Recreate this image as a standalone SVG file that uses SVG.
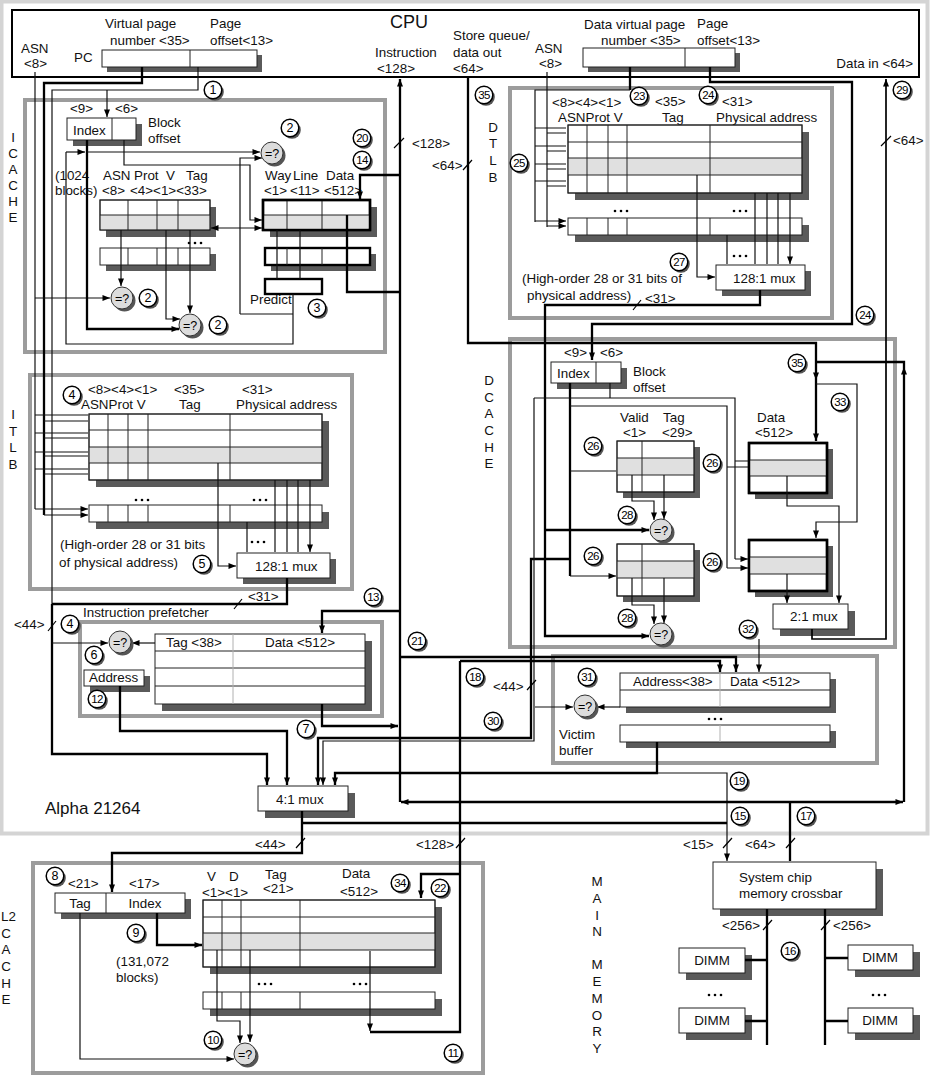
<svg xmlns="http://www.w3.org/2000/svg" width="931" height="1087" viewBox="0 0 931 1087">
<defs>
<style>
.t{font-family:"Liberation Sans",Arial,sans-serif;font-size:13.4px;fill:#111}
.tc{text-anchor:middle}
.te{text-anchor:end}
.big{font-size:18px}
.al{font-size:17px}
.gb{fill:none;stroke:#9c9c9c;stroke-width:4}
.ob{fill:none;stroke:#d4d4d4;stroke-width:4}
.bx{fill:#fff;stroke:#222;stroke-width:1}
.tb{fill:#fff;stroke:#000;stroke-width:2.4}
.nf{fill:none}
.sh{fill:#5a5a5a}
.gr{fill:#e0e0e0}
.ln{stroke:#222;stroke-width:1;fill:none}
.lg{stroke:#b0b0b0;stroke-width:1;fill:none}
.w{stroke:#111;stroke-width:1.2;fill:none}
.W{stroke:#000;stroke-width:2.3;fill:none}
.M{stroke:#000;stroke-width:1.7;fill:none}
.a{marker-end:url(#ah)}
.aa{marker-start:url(#ah);marker-end:url(#ah)}
.cn{font-family:"Liberation Sans",Arial,sans-serif;font-size:12.5px;text-anchor:middle;fill:#000}
.c2{font-size:11.5px;letter-spacing:-0.6px}
.sl{stroke:#000;stroke-width:1.2}
</style>
<marker id="ah" viewBox="0 0 10 8" refX="10" refY="4" markerWidth="8" markerHeight="6" markerUnits="userSpaceOnUse" orient="auto-start-reverse"><path d="M0,0 L10,4 L0,8 z" fill="#000"/></marker>
<g id="cb"><circle cx="2" cy="2" r="8.8" fill="#555"/><circle r="8.8" fill="#fff" stroke="#000" stroke-width="1.5"/></g>
<g id="eq"><circle cx="2.5" cy="2.5" r="11" fill="#555"/><circle r="11" fill="#dcdcdc" stroke="#333" stroke-width="1"/></g>
<g id="dots"><circle cx="0" cy="0" r="1.3" fill="#000"/><circle cx="6" cy="0" r="1.3" fill="#000"/><circle cx="12" cy="0" r="1.3" fill="#000"/></g>
</defs>
<rect width="931" height="1087" fill="#fff"/>
<rect class="ob" x="1.5" y="1.5" width="926" height="832"/>
<text class="t al" x="45" y="814">Alpha 21264</text>

<g id="frames">
<rect class="gb" x="25" y="100" width="360" height="252"/>
<rect class="gb" x="30" y="375" width="322" height="214"/>
<rect class="gb" x="80" y="622" width="302" height="94"/>
<rect class="gb" x="510" y="88" width="322" height="230"/>
<rect class="gb" x="510" y="339" width="385" height="308"/>
<rect class="gb" x="553" y="656" width="324" height="107"/>
<rect class="gb" x="33" y="863" width="450" height="210"/>
</g>

<g id="cpu">
<rect x="12" y="10" width="907" height="67" fill="#fff" stroke="#000" stroke-width="2"/>
<text class="t big" x="390" y="28">CPU</text>
<text class="t" x="21" y="53">ASN</text><text class="t" x="24" y="68">&lt;8&gt;</text>
<text class="t" x="74" y="62">PC</text>
<text class="t" x="105" y="28">Virtual page</text><text class="t" x="110" y="45">number &lt;35&gt;</text>
<text class="t" x="210" y="28">Page</text><text class="t" x="210" y="45">offset&lt;13&gt;</text>
<text class="t" x="375" y="57">Instruction</text><text class="t" x="377" y="73">&lt;128&gt;</text>
<text class="t" x="453" y="40">Store queue/</text><text class="t" x="453" y="57">data out</text><text class="t" x="453" y="73">&lt;64&gt;</text>
<text class="t" x="535" y="53">ASN</text><text class="t" x="539" y="68">&lt;8&gt;</text>
<text class="t" x="584" y="29">Data virtual page</text><text class="t" x="601" y="45">number &lt;35&gt;</text>
<text class="t" x="697" y="28">Page</text><text class="t" x="697" y="45">offset&lt;13&gt;</text>
<text class="t te" x="913" y="68">Data in &lt;64&gt;</text>
</g>
<g id="pc-reg">
<rect class="sh" x="107" y="55" width="155" height="17"/>
<rect class="bx" x="102" y="50" width="155" height="17"/>
<path class="ln" d="M190,50V67"/>
</g>
<g id="dva-reg">
<rect class="sh" x="588" y="53" width="152" height="19"/>
<rect class="bx" x="583" y="48" width="152" height="19"/>
<path class="ln" d="M685,48V67"/>
</g>

<g id="icache-labels">
<text class="t tc" x="13"><tspan x="13" y="142">I</tspan><tspan x="13" y="158">C</tspan><tspan x="13" y="174">A</tspan><tspan x="13" y="190">C</tspan><tspan x="13" y="206">H</tspan><tspan x="13" y="222">E</tspan></text>
<text class="t" x="70" y="113">&lt;9&gt;</text><text class="t" x="115" y="113">&lt;6&gt;</text>
<text class="t" x="148" y="127">Block</text><text class="t" x="148" y="143">offset</text>
<text class="t" x="55" y="180">(1024</text><text class="t" x="55" y="195">blocks)</text>
<text class="t" x="103" y="180">ASN</text><text class="t" x="134" y="180">Prot</text><text class="t" x="166" y="180">V</text><text class="t" x="186" y="180">Tag</text>
<text class="t" x="102" y="195">&lt;8&gt;</text><text class="t" x="130" y="195">&lt;4&gt;&lt;1&gt;&lt;33&gt;</text>
<text class="t" x="265" y="180">Way</text><text class="t" x="293" y="180">Line</text><text class="t" x="326" y="180">Data</text>
<text class="t" x="264" y="195">&lt;1&gt;</text><text class="t" x="290" y="195">&lt;11&gt;</text><text class="t" x="324" y="195">&lt;512&gt;</text>
<text class="t" x="250" y="304">Predict</text>
</g>
<g id="ic-index">
<rect class="sh" x="73" y="124" width="69" height="22"/>
<rect class="bx" x="67" y="118" width="69" height="22"/>
<path class="ln" d="M112,118V140"/>
<text class="t" x="73" y="135">Index</text>
</g>
<g id="ic-tag">
<rect class="sh" x="106" y="207" width="110" height="30"/>
<rect class="bx" x="100" y="200" width="110" height="30"/>
<rect class="gr" x="100.5" y="215" width="109" height="14.5"/>
<path class="ln" d="M100,215H210M128,200V230M157,200V230M178,200V230"/>
<rect class="bx nf" x="100" y="200" width="110" height="30"/>
<rect class="sh" x="106" y="254" width="110" height="17"/>
<rect class="bx" x="100" y="248" width="110" height="17"/>
<path class="ln" d="M128,248V265M157,248V265M178,248V265"/>
<use href="#dots" x="189" y="243"/>
</g>
<g id="ic-data">
<rect class="sh" x="270" y="207" width="107" height="30"/>
<rect class="tb" x="263" y="200" width="107" height="30"/>
<rect class="gr" x="264.5" y="215" width="104" height="13.8"/>
<path class="ln" d="M263,215H370M287,200V230M322,200V230"/>
<rect class="tb nf" x="263" y="200" width="107" height="30"/>
<rect class="sh" x="271" y="254" width="105" height="17"/>
<rect class="tb" x="265" y="248" width="105" height="17"/>
<path class="ln" d="M287,248V265M322,248V265"/>
<rect class="tb" x="265" y="279" width="57" height="15"/>
</g>

<g id="itlb">
<text class="t tc"><tspan x="13" y="419">I</tspan><tspan x="13" y="436">T</tspan><tspan x="13" y="452">L</tspan><tspan x="13" y="469">B</tspan></text>
<text class="t" x="88" y="394">&lt;8&gt;&lt;4&gt;&lt;1&gt;</text><text class="t" x="174" y="394">&lt;35&gt;</text><text class="t" x="242" y="394">&lt;31&gt;</text>
<text class="t" x="81" y="409">ASNProt V</text><text class="t" x="179" y="409">Tag</text><text class="t" x="236" y="409">Physical address</text>
<rect class="sh" x="96" y="421" width="233" height="66"/>
<rect class="bx" x="89" y="414" width="233" height="66"/>
<rect class="gr" x="89.5" y="447" width="232" height="16"/>
<path class="ln" d="M89,430H322M89,447H322M89,463H322M108,414V480M128,414V480M148,414V480M230,414V480"/>
<rect class="bx nf" x="89" y="414" width="233" height="66"/>
<use href="#dots" x="136" y="500"/><use href="#dots" x="254" y="500"/>
<rect class="sh" x="96" y="512" width="233" height="17"/>
<rect class="bx" x="89" y="505" width="233" height="17"/>
<path class="ln" d="M108,505V522M128,505V522M148,505V522M230,505V522"/>
<text class="t" x="60" y="549">(High-order 28 or 31 bits</text>
<text class="t" x="59" y="567">of physical  address)</text>
<use href="#dots" x="252" y="542"/>
</g>
<g id="itlb-mux">
<rect class="sh" x="243" y="559" width="93" height="25"/>
<rect class="bx" x="237" y="553" width="93" height="25"/>
<text class="t" x="255" y="571">128:1 mux</text>
</g>

<g id="prefetcher">
<text class="t" x="83" y="617">Instruction prefetcher</text>
<rect class="sh" x="162" y="641" width="210" height="70"/>
<rect class="bx" x="155" y="634" width="210" height="70"/>
<path class="ln" d="M155,651H365M155,668H365M155,686H365"/>
<path class="lg" d="M233,634V704"/>
<text class="t" x="166" y="647">Tag &lt;38&gt;</text><text class="t" x="265" y="647">Data &lt;512&gt;</text>
</g>
<g id="pf-address">
<rect class="sh" x="90" y="676" width="60" height="16"/>
<rect class="bx" x="84" y="670" width="60" height="16"/>
<text class="t" x="89" y="682">Address</text>
</g>
<g id="mux41">
<rect class="sh" x="265" y="793" width="90" height="25"/>
<rect class="bx" x="258" y="786" width="90" height="25"/>
<text class="t" x="276" y="804">4:1 mux</text>
</g>

<g id="dtlb">
<text class="t tc"><tspan x="493" y="132">D</tspan><tspan x="493" y="148">T</tspan><tspan x="493" y="165">L</tspan><tspan x="493" y="182">B</tspan></text>
<text class="t" x="552" y="107">&lt;8&gt;&lt;4&gt;&lt;1&gt;</text><text class="t" x="655" y="106">&lt;35&gt;</text><text class="t" x="722" y="106">&lt;31&gt;</text>
<text class="t" x="558" y="122">ASNProt V</text><text class="t" x="662" y="122">Tag</text><text class="t" x="716" y="122">Physical address</text>
<rect class="sh" x="575" y="132" width="234" height="68"/>
<rect class="bx" x="568" y="125" width="234" height="68"/>
<rect class="gr" x="568.5" y="158" width="233" height="17"/>
<path class="ln" d="M568,142H802M568,158H802M568,175H802M587,125V193M608,125V193M627,125V193M710,125V193"/>
<rect class="bx nf" x="568" y="125" width="234" height="68"/>
<use href="#dots" x="615" y="211"/><use href="#dots" x="734" y="211"/>
<rect class="sh" x="575" y="225" width="234" height="17"/>
<rect class="bx" x="568" y="218" width="234" height="17"/>
<path class="ln" d="M587,218V235M608,218V235M627,218V235M710,218V235"/>
<text class="t" x="522" y="283">(High-order 28 or 31 bits of</text>
<text class="t" x="527" y="300">physical  address)</text>
<use href="#dots" x="734" y="256"/>
</g>
<g id="dtlb-mux">
<rect class="sh" x="722" y="271" width="89" height="25"/>
<rect class="bx" x="716" y="265" width="89" height="25"/>
<text class="t" x="733" y="283">128:1 mux</text>
</g>

<g id="dcache">
<text class="t tc"><tspan x="489" y="385">D</tspan><tspan x="489" y="402">C</tspan><tspan x="489" y="418">A</tspan><tspan x="489" y="435">C</tspan><tspan x="489" y="452">H</tspan><tspan x="489" y="468">E</tspan></text>
<text class="t" x="564" y="357">&lt;9&gt;</text><text class="t" x="600" y="357">&lt;6&gt;</text>
<text class="t" x="633" y="376">Block</text><text class="t" x="633" y="392">offset</text>
<text class="t" x="620" y="422">Valid</text><text class="t" x="623" y="437">&lt;1&gt;</text>
<text class="t" x="663" y="422">Tag</text><text class="t" x="662" y="437">&lt;29&gt;</text>
<text class="t" x="757" y="422">Data</text><text class="t" x="755" y="437">&lt;512&gt;</text>
</g>
<g id="dc-index">
<rect class="sh" x="557" y="368" width="70" height="21"/>
<rect class="bx" x="551" y="362" width="70" height="21"/>
<path class="ln" d="M596,362V383"/>
<text class="t" x="557" y="378">Index</text>
</g>
<g id="dc-tag1">
<rect class="sh" x="623" y="447" width="77" height="51"/>
<rect class="bx" x="617" y="441" width="77" height="51"/>
<rect class="gr" x="617.5" y="458" width="76" height="17"/>
<path class="ln" d="M617,458H694M617,475H694M642,441V492"/>
<rect class="bx nf" x="617" y="441" width="77" height="51"/>
</g>
<g id="dc-tag2">
<rect class="sh" x="623" y="550" width="77" height="52"/>
<rect class="bx" x="617" y="544" width="77" height="52"/>
<rect class="gr" x="617.5" y="561" width="76" height="17"/>
<path class="ln" d="M617,561H694M617,578H694M642,544V596"/>
<rect class="bx nf" x="617" y="544" width="77" height="52"/>
</g>
<g id="dc-data1">
<rect class="sh" x="755" y="449" width="78" height="50"/>
<rect class="tb" x="749" y="443" width="78" height="50"/>
<rect class="gr" x="750.5" y="460" width="75" height="16"/>
<path class="ln" d="M749,460H827M749,476H827"/>
<rect class="tb nf" x="749" y="443" width="78" height="50"/>
</g>
<g id="dc-data2">
<rect class="sh" x="755" y="546" width="78" height="51"/>
<rect class="tb" x="749" y="540" width="78" height="51"/>
<rect class="gr" x="750.5" y="557" width="75" height="17"/>
<path class="ln" d="M749,557H827M749,574H827"/>
<rect class="tb nf" x="749" y="540" width="78" height="51"/>
</g>
<g id="mux21">
<rect class="sh" x="780" y="611" width="75" height="25"/>
<rect class="bx" x="773" y="604" width="75" height="25"/>
<text class="t" x="790" y="621">2:1 mux</text>
</g>

<g id="victim">
<text class="t" x="559" y="739">Victim</text><text class="t" x="559" y="755">buffer</text>
<rect class="sh" x="626" y="679" width="210" height="34"/>
<rect class="bx" x="620" y="673" width="210" height="34"/>
<path class="ln" d="M620,690H830"/><path class="lg" d="M720,673V707"/>
<text class="t" x="633" y="686">Address&lt;38&gt;</text><text class="t" x="730" y="686">Data &lt;512&gt;</text>
<use href="#dots" x="709" y="719"/>
<rect class="sh" x="626" y="731" width="210" height="17"/>
<rect class="bx" x="620" y="725" width="210" height="17"/>
<path class="lg" d="M720,725V742"/>
</g>

<g id="l2cache">
<text class="t" x="1" y="921">L2</text>
<text class="t tc"><tspan x="6" y="938">C</tspan><tspan x="6" y="954">A</tspan><tspan x="6" y="971">C</tspan><tspan x="6" y="988">H</tspan><tspan x="6" y="1004">E</tspan></text>
<text class="t" x="68" y="888">&lt;21&gt;</text><text class="t" x="129" y="888">&lt;17&gt;</text>
<text class="t" x="207" y="881">V</text><text class="t" x="229" y="881">D</text><text class="t" x="265" y="879">Tag</text><text class="t" x="342" y="878">Data</text>
<text class="t" x="202" y="897">&lt;1&gt;&lt;1&gt;</text><text class="t" x="263" y="893">&lt;21&gt;</text><text class="t" x="340" y="896">&lt;512&gt;</text>
<text class="t" x="116" y="966">(131,072</text><text class="t" x="116" y="982">blocks)</text>
</g>
<g id="l2-addr">
<rect class="sh" x="61" y="899" width="130" height="20"/>
<rect class="bx" x="55" y="893" width="130" height="20"/>
<path class="ln" d="M106,893V913"/>
<text class="t tc" x="80" y="908">Tag</text><text class="t tc" x="145" y="908">Index</text>
</g>
<g id="l2-array">
<rect class="sh" x="210" y="907" width="232" height="67"/>
<rect class="bx" x="203" y="900" width="232" height="67"/>
<rect class="gr" x="203.5" y="933" width="231" height="17"/>
<path class="ln" d="M203,917H435M203,933H435M203,950H435M222,900V967M241,900V967M300,900V967"/>
<rect class="bx nf" x="203" y="900" width="232" height="67"/>
<use href="#dots" x="259" y="984"/><use href="#dots" x="354" y="984"/>
<rect class="sh" x="210" y="999" width="232" height="17"/>
<rect class="bx" x="203" y="992" width="232" height="17"/>
<path class="ln" d="M222,992V1009M241,992V1009M300,992V1009"/>
</g>

<g id="memory">
<text class="t tc"><tspan x="597" y="886">M</tspan><tspan x="597" y="903">A</tspan><tspan x="597" y="920">I</tspan><tspan x="597" y="936">N</tspan><tspan x="597" y="969">M</tspan><tspan x="597" y="986">E</tspan><tspan x="597" y="1003">M</tspan><tspan x="597" y="1020">O</tspan><tspan x="597" y="1036">R</tspan><tspan x="597" y="1053">Y</tspan></text>
</g>
<g id="crossbar">
<rect class="sh" x="720" y="869" width="163" height="47"/>
<rect class="bx" x="713" y="862" width="163" height="47"/>
<text class="t" x="739" y="882">System chip</text><text class="t" x="739" y="898">memory crossbar</text>
</g>
<g id="dimm-l1"><rect class="sh" x="686" y="955" width="66" height="25"/><rect class="bx" x="679" y="948" width="66" height="25"/><text class="t tc" x="712" y="965">DIMM</text></g>
<g id="dimm-l2"><rect class="sh" x="686" y="1015" width="66" height="25"/><rect class="bx" x="679" y="1008" width="66" height="25"/><text class="t tc" x="712" y="1025">DIMM</text></g>
<g id="dimm-r1"><rect class="sh" x="855" y="952" width="65" height="25"/><rect class="bx" x="848" y="945" width="65" height="25"/><text class="t tc" x="880" y="962">DIMM</text></g>
<g id="dimm-r2"><rect class="sh" x="855" y="1015" width="65" height="25"/><rect class="bx" x="848" y="1008" width="65" height="25"/><text class="t tc" x="880" y="1025">DIMM</text></g>
<use href="#dots" x="709" y="995"/><use href="#dots" x="873" y="995"/>

<g id="connectors">
<path class="W" d="M142,67V83H44V515"/>
<path class="w" d="M198,67V90H52V604"/>
<path class="w a" d="M107,90V117"/>
<path class="w" d="M35,72V509"/>
<path class="w a" d="M35,298H110"/>
<path class="w a" d="M35,415H88M35,433H88M35,452H88M35,469H88M35,509H88"/>
<path class="w a" d="M44,421H88M44,438H88M44,456H88M44,474H88M44,515H88"/>
<path class="W a" d="M87,140V329H179"/>
<path class="w a" d="M87,152H260"/>
<path class="w a" d="M66,152H85"/>
<path class="w" d="M293,294V344H66V152"/>
<path class="w a" d="M240,314V158H262"/>
<path class="w" d="M240,314H293"/>
<path class="w a" d="M124,140V165H250V220H262"/>
<path class="w aa" d="M211,228H262"/>
<path class="w a" d="M121,230V286"/>
<path class="w a" d="M166,230V319H180"/>
<path class="w a" d="M190,230V313"/>
<path class="w" d="M277,230V279M300,230V279"/>
<path class="W" d="M347,215V292H400"/>
<path class="W a" d="M400,175H360V199"/>
<path class="W a" d="M400,802V79"/>
<path class="w a" d="M218,463V566H236"/>
<path class="w a" d="M247,522V552M275,480V552M287,480V552M298,480V552M310,480V552"/>
<path class="W" d="M287,578V604H52"/>
<path class="W a" d="M52,604V754H267V785"/>
<path class="w a" d="M52,643H108"/>
<path class="w a" d="M155,643H132"/>
<path class="W a" d="M120,686V731H287V785"/>
<path class="W a" d="M322,704V726H398"/>
<path class="W a" d="M400,611H322V633"/>
<path class="w" d="M547,72V227"/>
<path class="W" d="M630,67V90"/>
<path class="w" d="M630,90H535V222"/>
<path class="w a" d="M535,128H566M535,146H566M535,164H566M535,181H566M535,221H566"/>
<path class="w a" d="M547,133H566M547,151H566M547,169H566M547,186H566M547,226H566"/>
<path class="w a" d="M697,175V277H715"/>
<path class="w a" d="M727,235V264M755,193V264M767,193V264M778,193V264M790,193V264"/>
<path class="W a" d="M760,290V305H545V636H649"/>
<path class="W a" d="M545,530H649"/>
<path class="W a" d="M710,67V82H852V324H592V360"/>
<path class="W a" d="M468,78V343H816V380"/>
<path class="W a" d="M816,380V441"/>
<path class="W a" d="M904,802V367"/>
<path class="W" d="M904,367V362H816"/>
<path class="w a" d="M816,384H857V522H816V538"/>
<path class="M a" d="M812,629V639H886V79"/>
<path class="w a" d="M759,639V672"/>
<path class="W" d="M570,383V576"/>
<path class="w a" d="M570,471H616M570,576H616"/>
<path class="W a" d="M570,559H531V738H318V785"/>
<path class="w" d="M610,383V398M534,398H735V559"/>
<path class="w a" d="M735,461H748M735,559H748"/>
<path class="w a" d="M534,398V741H323V785"/>
<path class="w" d="M570,406H727V568"/>
<path class="w a" d="M727,467H748M727,568H748"/>
<path class="w a" d="M535,707H573"/>
<path class="w a" d="M632,475V501H654V520"/>
<path class="w a" d="M664,475V519"/>
<path class="w a" d="M632,578V605H654V624"/>
<path class="w a" d="M664,578V623"/>
<path class="w a" d="M787,476V506H839V603"/>
<path class="w a" d="M787,574V603"/>
<path class="W a" d="M400,657H736V672"/>
<path class="W a" d="M460,661H720V672"/>
<path class="w a" d="M620,707H597"/>
<path class="W a" d="M657,742V773H335V785"/>
<path class="w a" d="M657,773H727V861"/>
<path class="W a" d="M302,811V853H112V892"/>
<path class="W" d="M302,823H727"/>
<path class="W aa" d="M401,802H903"/>
<path class="W" d="M790,802V861"/>
<path class="W" d="M460,661V1032H370"/>
<path class="W a" d="M460,874H421V898"/>
<path class="w a" d="M370,951V1031"/>
<path class="W a" d="M157,913V945H202"/>
<path class="w a" d="M80,913V1059H234"/>
<path class="w a" d="M217,950V1021H240V1043"/>
<path class="w a" d="M250,950V1042"/>
<path class="W" d="M767,909V1045M825,909V1045M745,960H767M745,1021H767M825,958H848M825,1021H848"/>
<path class="sl" d="M394,148L404,138M463,170L472,160M881,146L891,136M234,609L242,599M633,310L641,300M48,631L56,621M527,690L536,680M296,848L305,838M456,848L465,838M723,848L732,838M786,848L795,838M763,930L772,920M821,930L830,920"/>
<text class="t" x="412" y="148">&lt;128&gt;</text>
<text class="t" x="432" y="170">&lt;64&gt;</text>
<text class="t" x="893" y="145">&lt;64&gt;</text>
<text class="t" x="248" y="601">&lt;31&gt;</text>
<text class="t" x="645" y="303">&lt;31&gt;</text>
<text class="t" x="14" y="629">&lt;44&gt;</text>
<text class="t" x="493" y="691">&lt;44&gt;</text>
<text class="t" x="255" y="849">&lt;44&gt;</text>
<text class="t" x="416" y="849">&lt;128&gt;</text>
<text class="t" x="683" y="849">&lt;15&gt;</text>
<text class="t" x="745" y="849">&lt;64&gt;</text>
<text class="t" x="722" y="930">&lt;256&gt;</text>
<text class="t" x="833" y="930">&lt;256&gt;</text>
</g>

<g id="comparators">
<g id="cmp-ic1" transform="translate(272,153)"><use href="#eq"/><text class="cn" y="4.5">=?</text></g>
<g id="cmp-ic2" transform="translate(122,298)"><use href="#eq"/><text class="cn" y="4.5">=?</text></g>
<g id="cmp-ic3" transform="translate(190,325)"><use href="#eq"/><text class="cn" y="4.5">=?</text></g>
<g id="cmp-pf" transform="translate(120,642)"><use href="#eq"/><text class="cn" y="4.5">=?</text></g>
<g id="cmp-dc1" transform="translate(661,530)"><use href="#eq"/><text class="cn" y="4.5">=?</text></g>
<g id="cmp-dc2" transform="translate(661,634)"><use href="#eq"/><text class="cn" y="4.5">=?</text></g>
<g id="cmp-vb" transform="translate(585,706)"><use href="#eq"/><text class="cn" y="4.5">=?</text></g>
<g id="cmp-l2" transform="translate(245,1054)"><use href="#eq"/><text class="cn" y="4.5">=?</text></g>
</g>

<g id="steps">
<g transform="translate(213,90)"><use href="#cb"/><text class="cn" y="4.3">1</text></g>
<g transform="translate(290,128)"><use href="#cb"/><text class="cn" y="4.3">2</text></g>
<g transform="translate(148,298)"><use href="#cb"/><text class="cn" y="4.3">2</text></g>
<g transform="translate(218,325)"><use href="#cb"/><text class="cn" y="4.3">2</text></g>
<g transform="translate(317,308)"><use href="#cb"/><text class="cn" y="4.3">3</text></g>
<g transform="translate(72,395)"><use href="#cb"/><text class="cn" y="4.3">4</text></g>
<g transform="translate(70,624)"><use href="#cb"/><text class="cn" y="4.3">4</text></g>
<g transform="translate(202,564)"><use href="#cb"/><text class="cn" y="4.3">5</text></g>
<g transform="translate(94,655)"><use href="#cb"/><text class="cn" y="4.3">6</text></g>
<g transform="translate(306,729)"><use href="#cb"/><text class="cn" y="4.3">7</text></g>
<g transform="translate(55,876)"><use href="#cb"/><text class="cn" y="4.3">8</text></g>
<g transform="translate(136,933)"><use href="#cb"/><text class="cn" y="4.3">9</text></g>
<g transform="translate(213,1040)"><use href="#cb"/><text class="cn c2" y="4">10</text></g>
<g transform="translate(453,1053)"><use href="#cb"/><text class="cn c2" y="4">11</text></g>
<g transform="translate(97,699)"><use href="#cb"/><text class="cn c2" y="4">12</text></g>
<g transform="translate(373,597)"><use href="#cb"/><text class="cn c2" y="4">13</text></g>
<g transform="translate(362,160)"><use href="#cb"/><text class="cn c2" y="4">14</text></g>
<g transform="translate(740,816)"><use href="#cb"/><text class="cn c2" y="4">15</text></g>
<g transform="translate(790,951)"><use href="#cb"/><text class="cn c2" y="4">16</text></g>
<g transform="translate(806,816)"><use href="#cb"/><text class="cn c2" y="4">17</text></g>
<g transform="translate(475,677)"><use href="#cb"/><text class="cn c2" y="4">18</text></g>
<g transform="translate(739,781)"><use href="#cb"/><text class="cn c2" y="4">19</text></g>
<g transform="translate(362,138)"><use href="#cb"/><text class="cn c2" y="4">20</text></g>
<g transform="translate(417,641)"><use href="#cb"/><text class="cn c2" y="4">21</text></g>
<g transform="translate(440,888)"><use href="#cb"/><text class="cn c2" y="4">22</text></g>
<g transform="translate(639,96)"><use href="#cb"/><text class="cn c2" y="4">23</text></g>
<g transform="translate(708,95)"><use href="#cb"/><text class="cn c2" y="4">24</text></g>
<g transform="translate(865,315)"><use href="#cb"/><text class="cn c2" y="4">24</text></g>
<g transform="translate(519,163)"><use href="#cb"/><text class="cn c2" y="4">25</text></g>
<g transform="translate(593,446)"><use href="#cb"/><text class="cn c2" y="4">26</text></g>
<g transform="translate(712,463)"><use href="#cb"/><text class="cn c2" y="4">26</text></g>
<g transform="translate(593,556)"><use href="#cb"/><text class="cn c2" y="4">26</text></g>
<g transform="translate(712,562)"><use href="#cb"/><text class="cn c2" y="4">26</text></g>
<g transform="translate(679,262)"><use href="#cb"/><text class="cn c2" y="4">27</text></g>
<g transform="translate(627,515)"><use href="#cb"/><text class="cn c2" y="4">28</text></g>
<g transform="translate(627,618)"><use href="#cb"/><text class="cn c2" y="4">28</text></g>
<g transform="translate(902,90)"><use href="#cb"/><text class="cn c2" y="4">29</text></g>
<g transform="translate(493,721)"><use href="#cb"/><text class="cn c2" y="4">30</text></g>
<g transform="translate(587,677)"><use href="#cb"/><text class="cn c2" y="4">31</text></g>
<g transform="translate(748,629)"><use href="#cb"/><text class="cn c2" y="4">32</text></g>
<g transform="translate(840,402)"><use href="#cb"/><text class="cn c2" y="4">33</text></g>
<g transform="translate(400,883)"><use href="#cb"/><text class="cn c2" y="4">34</text></g>
<g transform="translate(484,95)"><use href="#cb"/><text class="cn c2" y="4">35</text></g>
<g transform="translate(797,363)"><use href="#cb"/><text class="cn c2" y="4">35</text></g>
</g>
</svg>
